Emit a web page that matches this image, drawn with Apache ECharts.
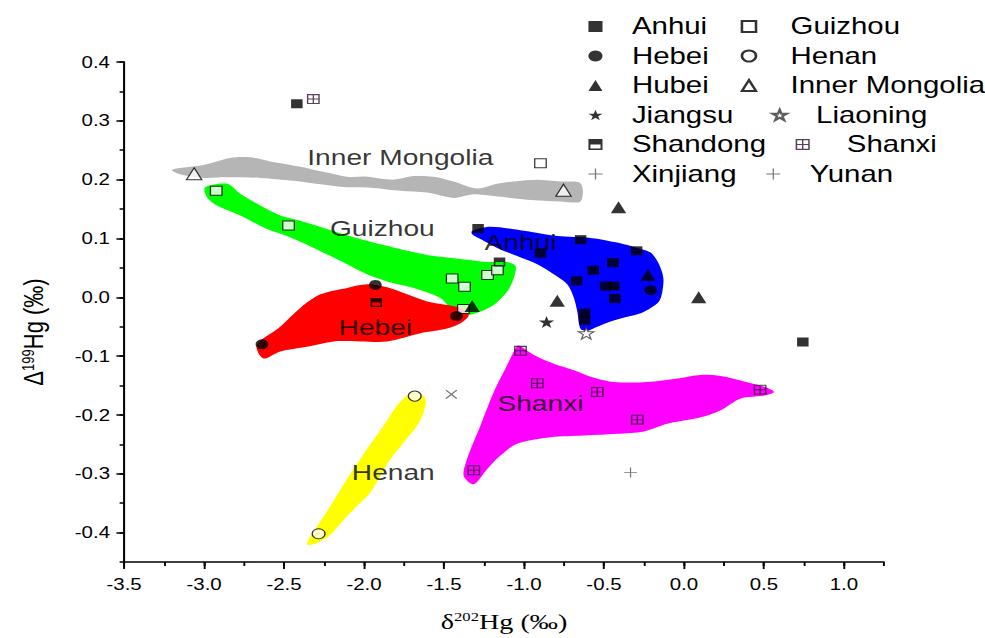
<!DOCTYPE html>
<html>
<head>
<meta charset="utf-8">
<title>Hg isotope signatures by province</title>
<script src="https://cdn.jsdelivr.net/npm/echarts@6/dist/echarts.min.js"></script>
<style>
  html, body { margin: 0; padding: 0; background: #fff; overflow: hidden; width: 985px; height: 638px; }
  /* the figure is laid out on a narrower canvas and widened to the page width */
  #chart { width: 770px; height: 638px; transform: scaleX(1.2792); transform-origin: 0 0; }
</style>
</head>
<body>
<div id="chart"></div>
<script>
// ---- measured samples: [δ202Hg, Δ199Hg] ----
const anhui = [[-2.42, 0.329], [-1.287, 0.117], [-0.646, 0.098], [-0.897, 0.075], [-0.296, 0.079],
  [-0.444, 0.059], [-0.567, 0.046], [-0.671, 0.028], [-0.49, 0.019], [-0.438, 0.019],
  [-0.432, -0.002], [-0.621, -0.027], [-0.621, -0.039], [0.743, -0.076]];
const guizhou = [[-0.897, 0.228], [-2.924, 0.181], [-2.472, 0.122], [-1.449, 0.032], [-1.372, 0.018],
  [-1.228, 0.038], [-1.166, 0.046], [-1.379, -0.02]];
const hebei = [[-2.638, -0.08], [-1.929, 0.021], [-1.422, -0.032], [-0.208, 0.012]];
const henan = [[-1.683, -0.168], [-2.284, -0.402]];
const hubei = [[-0.409, 0.153], [0.092, 0.0], [-0.792, -0.006], [-0.225, 0.038], [-1.324, -0.015]];
const innerMongolia = [[-3.062, 0.21], [-0.753, 0.182]];
const jiangsu = [[-0.859, -0.042]];
const liaoning = [[-0.611, -0.061]];
const shandong = [[-1.923, -0.009], [-1.153, 0.06]];
const shanxi = [[-2.317, 0.337], [-1.022, -0.091], [-0.917, -0.146], [-0.542, -0.161], [-0.292, -0.208],
  [0.476, -0.157], [-1.314, -0.294]];
const xinjiang = [[-0.334, -0.298]];
const yunan = [[-1.454, -0.165]];

// ---- shaded source fields (outline vertices in data units) ----
const innerMongoliaField = [[-3.2, 0.217], [-3.006, 0.225], [-2.837, 0.237], [-2.711, 0.238], [-2.586, 0.231],
  [-2.399, 0.222], [-2.232, 0.212], [-2.106, 0.205], [-1.981, 0.205], [-1.817, 0.2], [-1.69, 0.206],
  [-1.566, 0.205], [-1.441, 0.197], [-1.293, 0.185], [-1.168, 0.193], [-1.066, 0.197], [-0.917, 0.2],
  [-0.772, 0.197], [-0.647, 0.194], [-0.647, 0.163], [-0.772, 0.163], [-0.98, 0.166], [-1.189, 0.172],
  [-1.314, 0.175], [-1.439, 0.169], [-1.606, 0.178], [-1.773, 0.181], [-1.94, 0.186], [-2.106, 0.187],
  [-2.273, 0.192], [-2.441, 0.198], [-2.649, 0.203], [-2.857, 0.204], [-3.004, 0.203], [-3.15, 0.209]];
const guizhouField = [[-2.993, 0.187], [-2.857, 0.193], [-2.774, 0.176], [-2.649, 0.156], [-2.524, 0.139],
  [-2.399, 0.13], [-2.232, 0.116], [-2.065, 0.102], [-1.898, 0.09], [-1.731, 0.079], [-1.564, 0.07],
  [-1.397, 0.065], [-1.23, 0.06], [-1.105, 0.06], [-1.053, 0.053], [-1.064, 0.033], [-1.105, 0.01],
  [-1.189, -0.013], [-1.272, -0.024], [-1.355, -0.03], [-1.439, -0.024], [-1.523, -0.001], [-1.69, 0.016],
  [-1.856, 0.027], [-1.981, 0.039], [-2.148, 0.062], [-2.315, 0.084], [-2.482, 0.104], [-2.607, 0.116],
  [-2.774, 0.139], [-2.92, 0.156], [-2.982, 0.17]];
const anhuiField = [[-1.324, 0.113], [-1.21, 0.12], [-1.001, 0.113], [-0.792, 0.104], [-0.584, 0.101],
  [-0.417, 0.093], [-0.292, 0.084], [-0.208, 0.076], [-0.156, 0.056], [-0.129, 0.033], [-0.135, 0.01],
  [-0.156, -0.007], [-0.208, -0.018], [-0.271, -0.027], [-0.354, -0.033], [-0.459, -0.041], [-0.542, -0.05],
  [-0.604, -0.057], [-0.646, -0.054], [-0.667, -0.024], [-0.688, -0.001], [-0.73, 0.022], [-0.814, 0.039],
  [-0.917, 0.056], [-1.043, 0.07], [-1.168, 0.084], [-1.272, 0.099], [-1.324, 0.107]];
const hebeiField = [[-2.628, -0.104], [-2.67, -0.081], [-2.524, -0.05], [-2.399, -0.018], [-2.273, 0.005],
  [-2.106, 0.016], [-1.981, 0.022], [-1.856, 0.017], [-1.731, 0.005], [-1.606, -0.007], [-1.481, -0.013],
  [-1.397, -0.018], [-1.345, -0.03], [-1.397, -0.044], [-1.481, -0.053], [-1.648, -0.061], [-1.856, -0.075],
  [-2.023, -0.075], [-2.19, -0.075], [-2.357, -0.084], [-2.524, -0.092]];
const shanxiField = [[-1.033, -0.082], [-0.939, -0.098], [-0.813, -0.113], [-0.688, -0.124], [-0.584, -0.135],
  [-0.438, -0.144], [-0.229, -0.144], [-0.041, -0.138], [0.105, -0.132], [0.23, -0.134], [0.376, -0.143],
  [0.501, -0.152], [0.563, -0.161], [0.501, -0.167], [0.355, -0.172], [0.23, -0.192], [0.105, -0.204],
  [-0.104, -0.215], [-0.25, -0.228], [-0.417, -0.232], [-0.626, -0.235], [-0.834, -0.238], [-1.043, -0.249],
  [-1.147, -0.269], [-1.23, -0.292], [-1.314, -0.318], [-1.377, -0.304], [-1.356, -0.275], [-1.272, -0.218],
  [-1.189, -0.161], [-1.105, -0.115], [-1.053, -0.087]];
const henanField = [[-1.679, -0.161], [-1.616, -0.172], [-1.627, -0.195], [-1.668, -0.218], [-1.752, -0.247],
  [-1.835, -0.275], [-1.898, -0.304], [-1.961, -0.332], [-2.044, -0.355], [-2.128, -0.378], [-2.211, -0.404],
  [-2.315, -0.42], [-2.357, -0.42], [-2.315, -0.398], [-2.232, -0.364], [-2.148, -0.327], [-2.065, -0.292],
  [-1.981, -0.258], [-1.877, -0.218], [-1.794, -0.184], [-1.731, -0.167]];

// field names written inside the shaded areas, anchored at [δ202Hg, Δ199Hg]
const fieldNames = ['Inner Mongolia', 'Guizhou', 'Anhui', 'Hebei', 'Shanxi', 'Henan'];
const fieldNameAnchors = [[-1.773, 0.238], [-1.886, 0.118], [-1.022, 0.094], [-1.929, -0.051], [-0.897, -0.18], [-1.817, -0.298]];

// axis ticks
const xTicks = [-3.5, -3.0, -2.5, -2.0, -1.5, -1.0, -0.5, 0.0, 0.5, 1.0];
const yTicks = [-0.4, -0.3, -0.2, -0.1, 0.0, 0.1, 0.2, 0.3, 0.4];

const SANS = '"Liberation Sans", Arial, sans-serif';
const SERIF = '"Liberation Serif", "Times New Roman", serif';

const fields = [
  { outline: innerMongoliaField, color: '#b5b5b5' },
  { outline: guizhouField, color: '#00ff00' },
  { outline: anhuiField, color: '#0000ff' },
  { outline: hebeiField, color: '#ff0000' },
  { outline: shanxiField, color: '#ff00ff' },
  { outline: henanField, color: '#ffff00' }
];

// marker shapes
const STAR = 'path://M50,0L61.8,35.4L99,35.4L69,57.3L80.3,92.7L50,70.8L19.7,92.7L31,57.3L1,35.4L38.2,35.4Z';
const HALF_SQUARE = 'path://M0,0H10V10H0Z M1.4,5V8.6H8.6V5Z';
const GRID_SQUARE = 'path://M0,0H12V12H0Z M1.3,1.3V5.4H5.4V1.3Z M6.6,1.3V5.4H10.7V1.3Z M1.3,6.6V10.7H5.4V6.6Z M6.6,6.6V10.7H10.7V6.6Z';
const PLUS = 'path://M5.45,0H6.55V5.45H12V6.55H6.55V12H5.45V6.55H0V5.45H5.45Z';

const filled = c => ({ color: c, borderWidth: 0 });
const hollow = { color: '#ffffff', borderColor: '#000', borderWidth: 1 };

function pointSeries(name, data, symbol, size, itemStyle, extra) {
  return Object.assign({
    name, type: 'scatter', data, symbol, symbolSize: size, itemStyle,
    z: 4, emphasis: { disabled: true }, silent: true
  }, extra || {});
}

const series = [
  {
    name: 'fields', type: 'custom', z: 1, silent: true,
    data: fields.map((f, i) => [i, 0]),
    renderItem: function (params, api) {
      const f = fields[params.dataIndex];
      return {
        type: 'polygon',
        shape: { points: f.outline.map(p => api.coord(p)), smooth: 0.3 },
        style: { fill: f.color }
      };
    }
  },
  {
    name: 'fieldNames', type: 'scatter', z: 3, silent: true, symbolSize: 0,
    data: fieldNames.map((n, i) => ({ name: n, value: fieldNameAnchors[i] })),
    label: { show: true, position: 'inside', formatter: '{b}', fontFamily: SANS, fontSize: 22, color: '#000' },
    emphasis: { disabled: true }
  },
  pointSeries('Anhui', anhui, 'rect', 9, filled('#000')),
  pointSeries('Guizhou', guizhou, 'rect', 9, hollow),
  pointSeries('Hebei', hebei, 'circle', 10, filled('#000')),
  pointSeries('Henan', henan, 'circle', 10, hollow),
  pointSeries('Hubei', hubei, 'triangle', 12, filled('#000')),
  pointSeries('Inner Mongolia', innerMongolia, 'triangle', 12, hollow),
  pointSeries('Jiangsu', jiangsu, STAR, 12, filled('#000')),
  pointSeries('Liaoning', liaoning, STAR, 12, { color: '#fff', borderColor: '#333', borderWidth: 1 }),
  pointSeries('Shandong', shandong, HALF_SQUARE, 9, filled('#000')),
  pointSeries('Shanxi', shanxi, GRID_SQUARE, 10, filled('#2a1030')),
  pointSeries('Xinjiang', xinjiang, PLUS, 10, filled('#555')),
  pointSeries('Yunan', yunan, PLUS, 12, filled('#555'), { symbolRotate: 45 })
];

const ROW = 29.5;
const LEG_TOP = 15;
function legendCol(left, top, names, textShift) {
  return {
    orient: 'vertical', left, top, padding: 0, itemWidth: 11, itemHeight: 11, itemGap: 6.5,
    selectedMode: false, data: names,
    textStyle: { fontFamily: SANS, fontSize: 23, lineHeight: 23, color: '#000', padding: [0, 0, 0, textShift] }
  };
}

const option = {
  backgroundColor: '#fff',
  animation: false,
  grid: { left: 97, right: 79, top: 62, bottom: 76, outerBoundsMode: 'none', containLabel: false },
  legend: [
    legendCol(460, LEG_TOP, ['Anhui', 'Hebei', 'Hubei', 'Jiangsu', 'Shandong', 'Xinjiang'], 18),
    legendCol(579, LEG_TOP, ['Guizhou', 'Henan', 'Inner Mongolia'], 22),
    legendCol(603, LEG_TOP + 3 * ROW, ['Liaoning'], 18),
    legendCol(622, LEG_TOP + 4 * ROW, ['Shanxi'], 24),
    legendCol(599, LEG_TOP + 5 * ROW, ['Yunan'], 18)
  ],
  xAxis: [
    {
      type: 'value', min: -3.5, max: 1.25, position: 'bottom',
      name: '{t|δ}{s|202}{t|Hg (‰)}', nameLocation: 'middle', nameGap: 48,
      nameTextStyle: {
        rich: {
          t: { fontFamily: SERIF, fontSize: 22, color: '#000' },
          s: { fontFamily: SERIF, fontSize: 13, color: '#000', padding: [0, 0, 10, 0] }
        }
      },
      axisLine: { show: true, onZero: false, lineStyle: { color: '#000', width: 1.6 } },
      axisTick: { show: true, length: 7, customValues: xTicks, lineStyle: { color: '#000', width: 1.5 } },
      axisLabel: { customValues: xTicks, margin: 14, fontFamily: SANS, fontSize: 16, color: '#000',
        formatter: v => v.toFixed(1) },
      splitLine: { show: false }
    },
    {
      type: 'value', min: -3.5, max: 1.25, interval: 0.25, position: 'bottom',
      axisLine: { show: false, onZero: false },
      axisTick: { show: true, length: 4, lineStyle: { color: '#000', width: 1.5 } },
      axisLabel: { show: false },
      splitLine: { show: false }
    }
  ],
  yAxis: [
    {
      type: 'value', min: -0.45, max: 0.4, position: 'left',
      name: '{t|Δ}{s|199}{t|Hg (‰)}', nameLocation: 'middle', nameRotate: 90, nameGap: 60,
      nameTextStyle: {
        padding: [0, 40, 0, 0],
        rich: {
          t: { fontFamily: SANS, fontSize: 22, color: '#000' },
          s: { fontFamily: SANS, fontSize: 13, color: '#000', padding: [0, 0, 9, 0] }
        }
      },
      axisLine: { show: true, onZero: false, lineStyle: { color: '#000', width: 1.6 } },
      axisTick: { show: true, length: 6, customValues: yTicks, lineStyle: { color: '#000', width: 1.5 } },
      axisLabel: { customValues: yTicks, margin: 11, fontFamily: SANS, fontSize: 16, color: '#000',
        formatter: v => v.toFixed(1) },
      splitLine: { show: false }
    },
    {
      type: 'value', min: -0.45, max: 0.4, interval: 0.05, position: 'left',
      axisLine: { show: false, onZero: false },
      axisTick: { show: true, length: 3.5, lineStyle: { color: '#000', width: 1.5 } },
      axisLabel: { show: false },
      splitLine: { show: false }
    }
  ],
  series
};

const chart = echarts.init(document.getElementById('chart'), null, { renderer: 'svg', width: 770, height: 638 });
chart.setOption(option);
</script>
</body>
</html>
